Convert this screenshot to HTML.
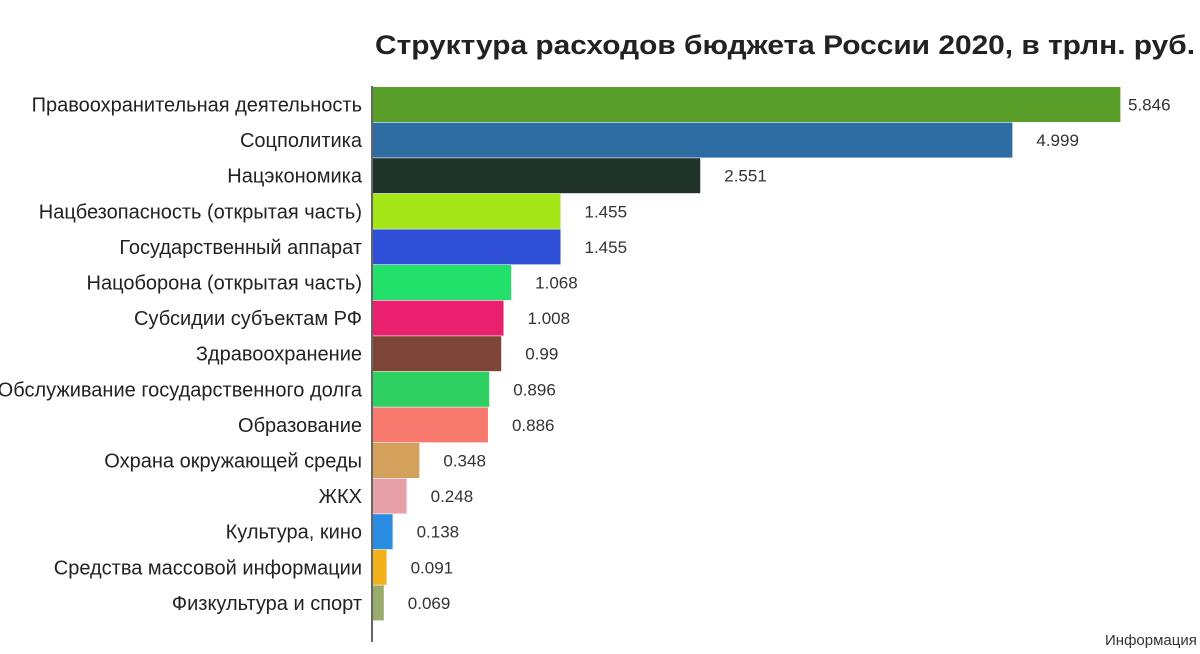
<!DOCTYPE html>
<html><head><meta charset="utf-8"><style>
body{margin:0;background:#fff;width:1200px;height:649px;overflow:hidden;font-family:"Liberation Sans",sans-serif}
svg text{font-family:"Liberation Sans",sans-serif}
</style></head><body>
<svg id="chart" width="1200" height="649" xmlns="http://www.w3.org/2000/svg">
<text x="375" y="54" font-size="27" font-weight="bold" fill="#222" textLength="820" lengthAdjust="spacingAndGlyphs">Структура расходов бюджета России 2020, в трлн. руб.</text>
<line x1="372" y1="86" x2="372" y2="642" stroke="#333" stroke-width="1.5"/>
<text x="1105" y="645" font-size="15" fill="#333">Информация</text>
<g id="bars"></g>
</svg>
<script>
const categories=["Правоохранительная деятельность","Соцполитика","Нацэкономика","Нацбезопасность (открытая часть)","Государственный аппарат","Нацоборона (открытая часть)","Субсидии субъектам РФ","Здравоохранение","Обслуживание государственного долга","Образование","Охрана окружающей среды","ЖКХ","Культура, кино","Средства массовой информации","Физкультура и спорт"];
const values=[5.846,4.999,2.551,1.455,1.455,1.068,1.008,0.99,0.896,0.886,0.348,0.248,0.138,0.091,0.069];
const valueLabels=["5.846","4.999","2.551","1.455","1.455","1.068","1.008","0.99","0.896","0.886","0.348","0.248","0.138","0.091","0.069"];
const colors=["#5a9e2a","#2e6da4","#1f3328","#a5e619","#2f4fd6","#22e06a","#e8206e","#7f4438","#2ed062","#f87a6e","#d4a15c","#e8a0a8","#2a8ce0","#f2b01a","#9aab6e"];
const x0=372,pxPerUnit=127.5,y0=87,step=35.6,bh=35;
const xs=v=>x0+3+v*pxPerUnit, ys=i=>y0+i*step;
const g=document.getElementById('bars');
const NS="http://www.w3.org/2000/svg";
categories.forEach((c,i)=>{
 const r=document.createElementNS(NS,'rect');
 
 
 r.setAttribute('x',x0+1);r.setAttribute('y',ys(i));
 r.setAttribute('width',Math.max(1,xs(values[i])-x0-1));r.setAttribute('height',bh);
 r.setAttribute('fill',colors[i]);g.appendChild(r);
 const t=document.createElementNS(NS,'text');
 
 
 t.setAttribute('x',362);t.setAttribute('y',ys(i)+bh/2+7);
 t.setAttribute('text-anchor','end');t.setAttribute('font-size','20');t.setAttribute('fill','#222');
 t.textContent=c;g.appendChild(t);
 const v=document.createElementNS(NS,'text');
 
 
 v.setAttribute('x',Math.min(xs(values[i])+24,1128));v.setAttribute('y',ys(i)+bh/2+6);
 v.setAttribute('font-size','17');v.setAttribute('fill','#333');
 v.textContent=valueLabels[i];g.appendChild(v);
});
</script>
</body></html>
